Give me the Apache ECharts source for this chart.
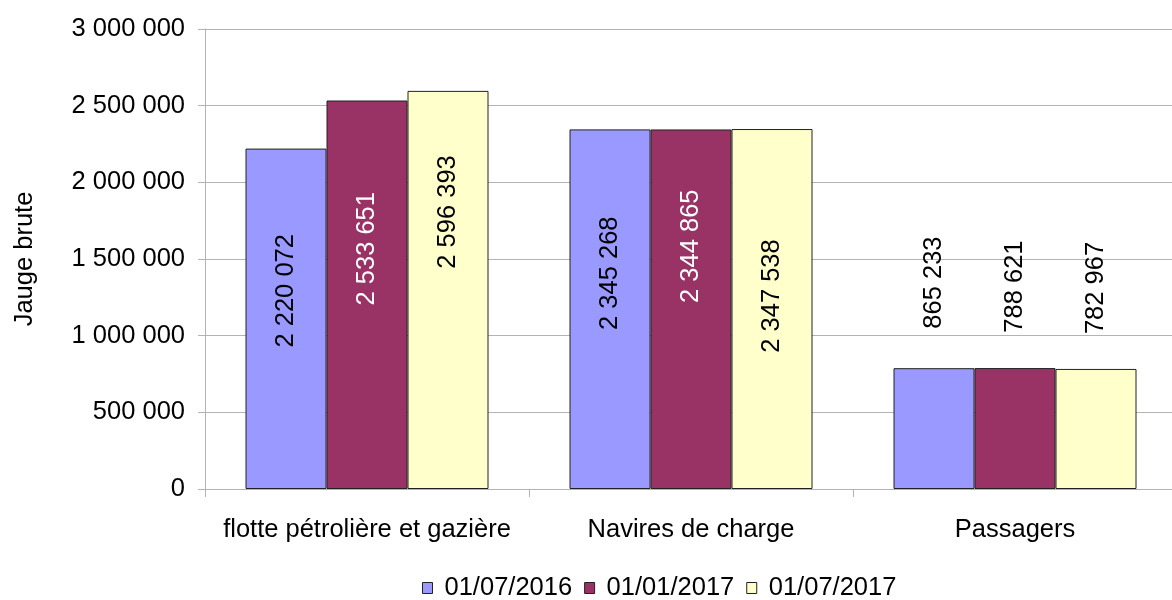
<!DOCTYPE html>
<html>
<head>
<meta charset="utf-8">
<script src="https://cdn.jsdelivr.net/npm/echarts@6/dist/echarts.min.js"></script>
<style>
  html, body { margin: 0; padding: 0; background: #fff; }
  #chart { width: 1172px; height: 600px; }
</style>
</head>
<body>
<div id="chart"></div>
<script>
// categories and dates
var categories = ['flotte pétrolière et gazière', 'Navires de charge', 'Passagers']
var seriesNames = ['01/07/2016', '01/01/2017', '01/07/2017']

// bar heights as drawn in the picture
var s2016a = [2220072, 2345268, 788000]
var s2017a = [2533651, 2344865, 788621]
var s2017b = [2596393, 2347538, 782967]

// values printed in the labels
var lab2016a = [2220072, 2345268, 865233]
var lab2017a = [2533651, 2344865, 788621]
var lab2017b = [2596393, 2347538, 782967]

// label shift upwards from bar centre, in px
var shift2016a = [28, 36, 146]
var shift2017a = [46, 63, 142]
var shift2017b = [78, 13, 141]
// labels sitting above the bars (black text)
var labelOutside = [false, false, true]

var colors = ['#9999ff', '#993366', '#ffffcc']
var labelColors = ['#000', '#fff', '#000']
var font = 'Liberation Sans, Arial, sans-serif'
var fs = 25.5

function fmt (n) {
  return String(n).replace(/\B(?=(\d{3})+(?!\d))/g, ' ')
}

function makeSeries (i, values, labels, shifts) {
  return {
    name: seriesNames[i],
    type: 'bar',
    barGap: '0%',
    barCategoryGap: '25%',
    itemStyle: { color: colors[i], borderColor: '#222', borderWidth: 1 },
    data: values.map(function (v, k) {
      return {
        value: v,
        label: { offset: [shifts[k], 0], color: labelOutside[k] ? '#000' : labelColors[i] }
      }
    }),
    label: {
      show: true,
      position: 'inside',
      rotate: 90,
      fontSize: fs,
      fontFamily: font,
      formatter: function (p) { return fmt(labels[p.dataIndex]) }
    }
  }
}

var chart = echarts.init(document.getElementById('chart'))
chart.setOption({
  animation: false,
  textStyle: { fontFamily: font },
  grid: { left: 205, right: -5, top: 29, bottom: 111, outerBoundsMode: 'none', containLabel: false },
  legend: {
    top: 575,
    left: 422,
    padding: 0,
    icon: 'rect',
    itemWidth: 10,
    itemHeight: 11,
    itemGap: 12,
    itemStyle: { borderColor: '#222', borderWidth: 1 },
    textStyle: { fontSize: fs, color: '#000', fontFamily: font, padding: [0, 0, 0, 7] },
    data: seriesNames
  },
  xAxis: {
    type: 'category',
    data: categories,
    axisLine: { lineStyle: { color: '#b3b3b3' } },
    axisTick: { show: true, length: 8, alignWithLabel: false, interval: 0, lineStyle: { color: '#b3b3b3' } },
    axisLabel: { fontSize: fs, color: '#000', margin: 28, interval: 0 }
  },
  yAxis: {
    type: 'value',
    min: 0,
    max: 3000000,
    interval: 500000,
    name: 'Jauge brute',
    nameLocation: 'middle',
    nameRotate: 90,
    nameGap: 167,
    nameTextStyle: { fontSize: fs, color: '#000' },
    axisLine: { show: true, lineStyle: { color: '#b3b3b3' } },
    axisTick: { show: true, length: 7, lineStyle: { color: '#b3b3b3' } },
    axisLabel: { fontSize: fs, color: '#000', margin: 20, formatter: function (v) { return fmt(v) } },
    splitLine: { lineStyle: { color: '#b3b3b3' } }
  },
  series: [
    makeSeries(0, s2016a, lab2016a, shift2016a),
    makeSeries(1, s2017a, lab2017a, shift2017a),
    makeSeries(2, s2017b, lab2017b, shift2017b)
  ]
})
</script>
</body>
</html>
